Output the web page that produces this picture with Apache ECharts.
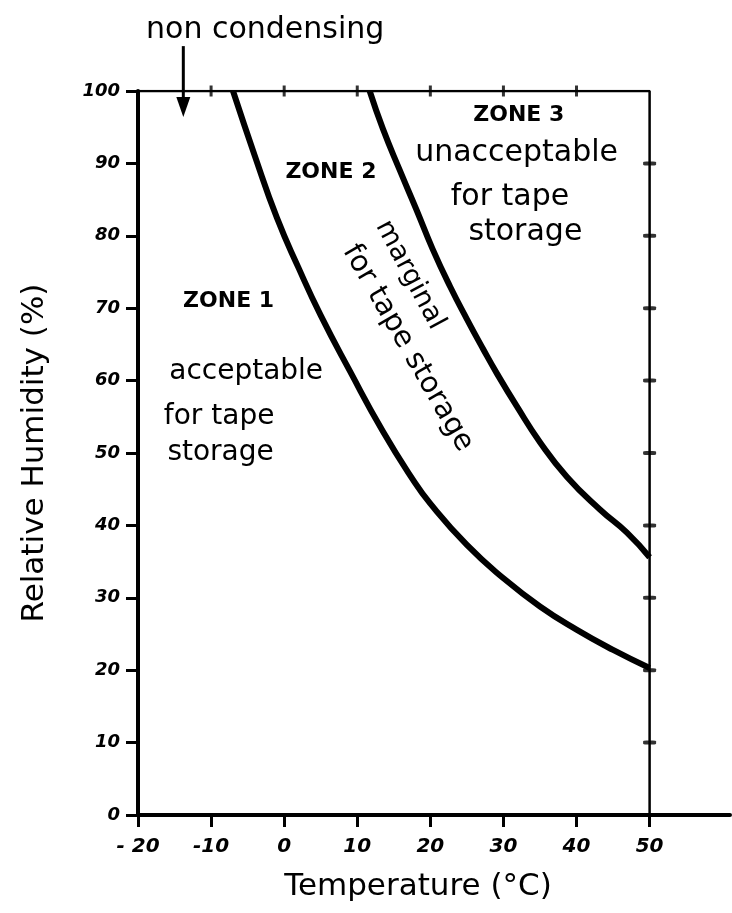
<!DOCTYPE html>
<html>
<head>
<meta charset="utf-8">
<script src="https://cdn.jsdelivr.net/npm/echarts@6/dist/echarts.min.js"></script>
<style>
  html, body { margin: 0; padding: 0; background: #ffffff; }
  #chart { width: 732px; height: 913px; }
</style>
</head>
<body>
<div id="chart"></div>
<script>
// ---- data ----
const xTicks = [-20, -10, 0, 10, 20, 30, 40, 50];
const xTickLabels = ['- 20', '-10', '0', '10', '20', '30', '40', '50'];
const yTicks = [0, 10, 20, 30, 40, 50, 60, 70, 80, 90, 100];
const yTickLabels = ['0', '10', '20', '30', '40', '50', '60', '70', '80', '90', '100'];

// boundary zone 1 / zone 2
const tempZone12 = [-7, -4, -1, 2, 5, 9, 13.5, 17.5, 20, 25, 30, 35, 40, 45, 50];
const rhZone12   = [100, 91, 82.5, 75.5, 69, 61.3, 53, 46.5, 43, 37.3, 32.7, 28.8, 25.6, 22.8, 20.3];

// boundary zone 2 / zone 3
const tempZone23 = [11.7, 13.5, 15.8, 18.1, 20.3, 22.7, 25, 27.2, 29.1, 31.8, 35, 38.7, 43.2, 46.9, 50];
const rhZone23   = [100, 94.8, 89.1, 83.6, 78.2, 73, 68.5, 64.4, 61, 56.5, 51.5, 46.7, 42.2, 39, 35.6];

// frame (top line at 100 %, right line at 50 °C) and its small ticks
const frameTemp = [-20, 50, 50];
const frameRh = [100, 100, 0];
const frameTopTicks = [-10, 0, 10, 20, 30, 40];
const frameRightTicks = [10, 20, 30, 40, 50, 60, 70, 80, 90];

// annotations (text, temperature, humidity, font size, rotation deg)
const noteTexts = ['non condensing', 'ZONE 1', 'acceptable', 'for tape', 'storage',
                   'ZONE 2', 'marginal', 'for tape storage',
                   'ZONE 3', 'unacceptable', 'for tape', 'storage'];
const noteTemp  = [-2.6, -7.6, -5.2, -8.9, -8.7, 6.4, 17.2, 16.9, 32.1, 31.8, 30.9, 33.0];
const noteRh    = [108.4, 70.9, 61.2, 55.0, 50.1, 88.8, 74.6, 64.5, 96.7, 91.4, 85.4, 80.5];
const noteSize  = [30, 22, 28, 28, 28, 22, 27, 29, 22, 30, 30, 30];
const noteRot   = [0, 0, 0, 0, 0, 0, -62, -60, 0, 0, 0, 0];
const noteBold  = [false, true, false, false, false, true, false, false, true, false, false, false];

// arrow "non condensing"
const arrowTemp = -13.8;
const arrowFromRh = 106.2;
const arrowToRh = 96.4;

// ---- chart ----
const zip = (a, b) => a.map((v, i) => [v, b[i]]);
const FONT = '"DejaVu Sans", "Noto Sans", sans-serif';
const chart = echarts.init(document.getElementById('chart'), null, { renderer: 'canvas' });

const option = {
  backgroundColor: '#ffffff',
  animation: false,
  grid: { left: 138, right: 2, top: 91, bottom: 98, containLabel: false },
  xAxis: {
    type: 'value', min: -20, max: 61,
    name: 'Temperature (°C)', nameLocation: 'middle', nameGap: 56,
    nameTextStyle: { fontFamily: FONT, fontSize: 31, color: '#000', padding: [0, 32, 0, 0] },
    axisLine: { show: true, onZero: false, lineStyle: { color: '#000', width: 4 } },
    axisTick: { show: true, customValues: xTicks, length: 12, lineStyle: { color: '#000', width: 3 } },
    axisLabel: {
      customValues: xTicks, margin: 22,
      formatter: v => xTickLabels[xTicks.indexOf(v)] ?? '',
      fontFamily: FONT, fontSize: 20, fontWeight: 'bold', fontStyle: 'italic', color: '#000'
    },
    splitLine: { show: false }
  },
  yAxis: {
    type: 'value', min: 0, max: 100, interval: 10,
    name: 'Relative Humidity (%)', nameLocation: 'middle', nameGap: 88, nameRotate: 90,
    nameTextStyle: { fontFamily: FONT, fontSize: 31, color: '#000' },
    axisLine: { show: true, onZero: false, lineStyle: { color: '#000', width: 4 } },
    axisTick: { show: true, length: 12, lineStyle: { color: '#000', width: 3 } },
    axisLabel: {
      margin: 18,
      formatter: v => yTickLabels[yTicks.indexOf(v)] ?? '',
      fontFamily: FONT, fontSize: 18, fontWeight: 'bold', fontStyle: 'italic', color: '#000'
    },
    splitLine: { show: false }
  },
  series: [
    {
      name: 'frame', type: 'line', data: zip(frameTemp, frameRh), symbol: 'none',
      lineStyle: { color: '#000', width: 2.5 }, z: 2, silent: true
    },
    {
      name: 'frameTopTicks', type: 'scatter', data: frameTopTicks.map(v => [v, 100]),
      symbol: 'rect', symbolSize: [3, 11], itemStyle: { color: '#000' }, z: 3, silent: true
    },
    {
      name: 'frameRightTicks', type: 'scatter', data: frameRightTicks.map(v => [50, v]),
      symbol: 'roundRect', symbolSize: [13, 4], itemStyle: { color: '#000' }, z: 3, silent: true
    },
    {
      name: 'Zone 1 / Zone 2', type: 'line', data: zip(tempZone12, rhZone12),
      smooth: 0.5, symbol: 'none', lineStyle: { color: '#000', width: 6 }, z: 4
    },
    {
      name: 'Zone 2 / Zone 3', type: 'line', data: zip(tempZone23, rhZone23),
      smooth: 0.5, symbol: 'none', lineStyle: { color: '#000', width: 6 }, z: 4
    }
  ]
};
chart.setOption(option);

// annotation texts and arrow positioned from data coordinates
const toPx = (x, y) => chart.convertToPixel({ gridIndex: 0 }, [x, y]);
const graphics = noteTexts.map((t, i) => {
  const p = toPx(noteTemp[i], noteRh[i]);
  return {
    type: 'text', x: p[0], y: p[1], rotation: noteRot[i] * Math.PI / 180, z: 10,
    style: {
      text: t, fill: '#000', fontFamily: FONT, fontSize: noteSize[i],
      fontWeight: noteBold[i] ? 'bold' : 'normal', align: 'center', verticalAlign: 'middle'
    }
  };
});
const a0 = toPx(arrowTemp, arrowFromRh);
const a1 = toPx(arrowTemp, arrowToRh);
graphics.push({
  type: 'line', z: 10,
  shape: { x1: a0[0], y1: a0[1], x2: a1[0], y2: a1[1] - 16 },
  style: { stroke: '#000', lineWidth: 3 }
});
graphics.push({
  type: 'polygon', z: 10,
  shape: { points: [[a1[0] - 7, a1[1] - 20], [a1[0] + 7, a1[1] - 20], [a1[0], a1[1]]] },
  style: { fill: '#000' }
});
chart.setOption({ graphic: graphics });
</script>
</body>
</html>
